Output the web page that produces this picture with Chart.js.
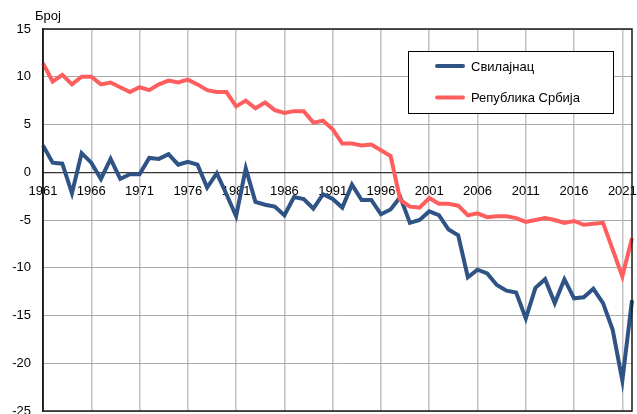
<!DOCTYPE html>
<html lang="sr">
<head>
  <meta charset="UTF-8" />
  <title>Свилајнац</title>
  <script src="https://cdn.jsdelivr.net/npm/chart.js"></script>
  <style>
    body { margin: 0; background: #fff; }
    #wrap { width: 637px; height: 414px; position: relative; }
  </style>
</head>
<body>
  <div id="wrap"><canvas id="chart"></canvas></div>

  <script>
    const years = [
      1961, 1962, 1963, 1964, 1965, 1966, 1967, 1968, 1969, 1970,
      1971, 1972, 1973, 1974, 1975, 1976, 1977, 1978, 1979, 1980,
      1981, 1982, 1983, 1984, 1985, 1986, 1987, 1988, 1989, 1990,
      1991, 1992, 1993, 1994, 1995, 1996, 1997, 1998, 1999, 2000,
      2001, 2002, 2003, 2004, 2005, 2006, 2007, 2008, 2009, 2010,
      2011, 2012, 2013, 2014, 2015, 2016, 2017, 2018, 2019, 2020,
      2021, 2022
    ];
    const svilajnac = [
      2.8, 1.0, 0.9, -2.2, 2.0, 1.0, -0.7, 1.4, -0.7, -0.2,
      -0.2, 1.5, 1.4, 1.9, 0.8, 1.1, 0.8, -1.6, -0.1, -2.3,
      -4.6, 0.4, -3.1, -3.4, -3.6, -4.5, -2.6, -2.8, -3.8, -2.3,
      -2.8, -3.7, -1.3, -2.9, -2.9, -4.4, -3.9, -2.6, -5.3, -5.0,
      -4.1, -4.5, -6.0, -6.6, -11.0, -10.2, -10.6, -11.8, -12.4, -12.6,
      -15.3, -12.1, -11.2, -13.7, -11.2, -13.2, -13.1, -12.2, -13.7, -16.5,
      -21.8, -13.4
    ];
    const srbija = [
      11.4, 9.5, 10.2, 9.2, 10.0, 10.0, 9.2, 9.4, 8.9, 8.4,
      8.9, 8.6, 9.2, 9.6, 9.4, 9.7, 9.2, 8.6, 8.4, 8.4,
      6.9, 7.5, 6.7, 7.3, 6.5, 6.2, 6.4, 6.4, 5.2, 5.4,
      4.5, 3.0, 3.0, 2.8, 2.9, 2.3, 1.7, -2.9, -3.6, -3.7,
      -2.7, -3.3, -3.3, -3.5, -4.5, -4.3, -4.7, -4.6, -4.6, -4.8,
      -5.2, -5.0, -4.8, -5.0, -5.3, -5.1, -5.5, -5.4, -5.3, -8.1,
      -10.9, -6.9
    ];
    const xTickLabels = ['1961', '1966', '1971', '1976', '1981', '1986', '1991', '1996', '2001', '2006', '2011', '2016', '2021'];
    const seriesNames = ['Свилајнац', 'Република Србија'];
    const yLabel = 'Број';

    const FONT = '"Liberation Sans", Arial, sans-serif';
    Chart.defaults.font.family = FONT;
    Chart.defaults.font.size = 13;
    Chart.defaults.color = '#000';

    // frame round the plot + unit label
    const framePlugin = {
      id: 'frame',
      afterDraw(chart) {
        const { ctx, chartArea: a } = chart;
        ctx.save();
        ctx.strokeStyle = '#1a1a1a';
        ctx.lineWidth = 1.5;
        ctx.strokeRect(a.left, a.top, a.right - a.left, a.bottom - a.top);
        ctx.fillStyle = '#000';
        ctx.font = '13px ' + FONT;
        ctx.textBaseline = 'alphabetic';
        ctx.fillText(yLabel, 35, 20);
        ctx.restore();
      }
    };

    // boxed legend inside the plot, upper right
    const boxLegend = {
      id: 'boxLegend',
      afterDatasetsDraw(chart) {
        const { ctx } = chart;
        const bx = 408, by = 51, bw = 205, bh = 62;
        ctx.save();
        ctx.fillStyle = '#fff';
        ctx.fillRect(bx, by, bw, bh);
        ctx.strokeStyle = '#000';
        ctx.lineWidth = 1;
        ctx.strokeRect(bx + 0.5, by + 0.5, bw, bh);
        ctx.font = '13px ' + FONT;
        ctx.textBaseline = 'middle';
        chart.data.datasets.forEach((ds, i) => {
          const y = by + 15 + i * 31.5;
          ctx.strokeStyle = ds.borderColor;
          ctx.lineWidth = 4;
          ctx.lineCap = 'round';
          ctx.beginPath();
          ctx.moveTo(437, y);
          ctx.lineTo(463, y);
          ctx.stroke();
          ctx.fillStyle = '#000';
          ctx.fillText(ds.label, 471, y + 1);
        });
        ctx.restore();
      }
    };

    const noPad = s => {
      s.paddingTop = 0; s.paddingBottom = 0;
      s.paddingLeft = 0; s.paddingRight = 0;
    };

    new Chart(document.getElementById('chart'), {
      type: 'line',
      data: {
        labels: years.map(String),
        datasets: [
          {
            label: seriesNames[0],
            data: svilajnac,
            borderColor: '#2E5384',
            borderWidth: 4,
            pointRadius: 0,
            tension: 0,
            order: 1
          },
          {
            label: seriesNames[1],
            data: srbija,
            borderColor: '#FF5E5E',
            borderWidth: 4,
            pointRadius: 0,
            tension: 0,
            order: 0
          }
        ]
      },
      options: {
        responsive: true,
        maintainAspectRatio: false,
        animation: false,
        layout: { padding: { left: 0, right: 5, top: 29, bottom: 3 } },
        plugins: {
          legend: { display: false },
          tooltip: { enabled: false }
        },
        scales: {
          x: {
            type: 'category',
            offset: false,
            position: { y: 0 },
            afterFit: s => { s.height = 0; noPad(s); },
            grid: {
              drawTicks: false,
              color: c => (c.tick && xTickLabels.includes(c.tick.label)) ? '#c2c2c2' : 'rgba(0,0,0,0)',
              lineWidth: 1.5
            },
            border: { display: true, color: '#333', width: 1.2 },
            ticks: {
              autoSkip: false,
              maxRotation: 0,
              padding: 11,
              font: { size: 13 },
              callback: function (v) {
                const l = this.getLabelForValue(v);
                return xTickLabels.includes(l) ? l : '';
              }
            }
          },
          y: {
            min: -25,
            max: 15,
            afterFit: s => { s.width = 43; noPad(s); },
            grid: { drawTicks: false, color: '#aaaaaa', lineWidth: 1 },
            border: { display: true, color: '#1a1a1a', width: 1.5 },
            ticks: { stepSize: 5, padding: 12, font: { size: 13 } }
          }
        }
      },
      plugins: [framePlugin, boxLegend]
    });
  </script>
</body>
</html>
